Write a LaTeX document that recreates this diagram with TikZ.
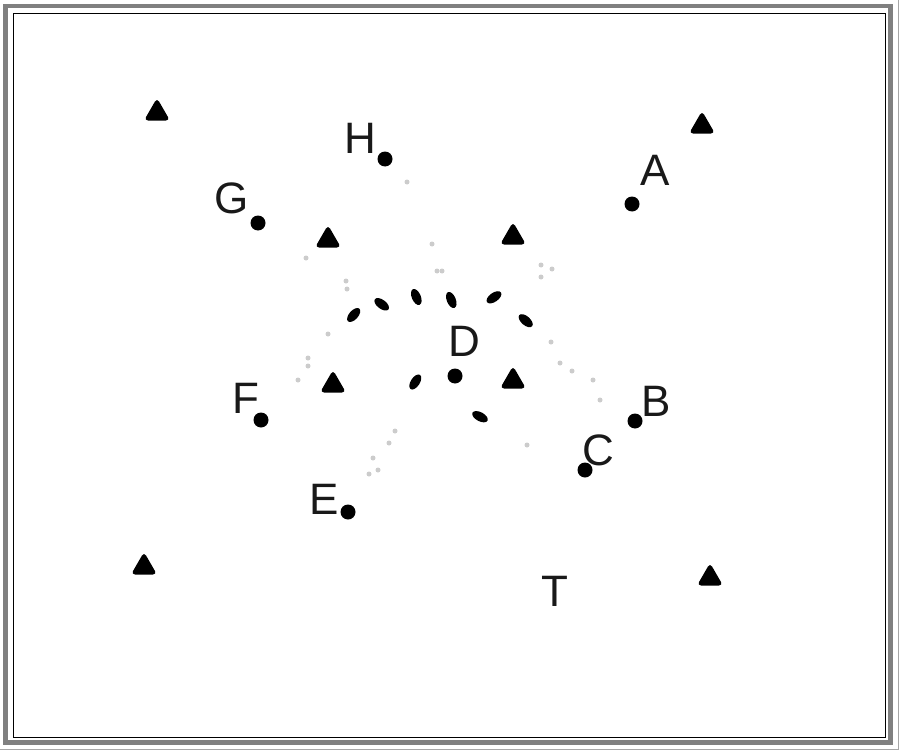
\documentclass[tikz,border=0pt]{standalone}
\usepackage{fontspec}
\setmainfont{Liberation Sans}
\usetikzlibrary{shapes.geometric}
\begin{document}
\begin{tikzpicture}[x=1pt,y=-1pt,
  tri/.style={regular polygon, regular polygon sides=3, fill=black, draw=black, line width=2pt, rounded corners=2.5pt, minimum size=26pt, inner sep=0pt},
  pt/.style={circle, fill=black, minimum size=15pt, inner sep=0pt},
  lbl/.style={font=\fontsize{44}{44}\selectfont, inner sep=0pt, text=black!90},
  drop/.style={ellipse, fill=black, minimum width=17pt, minimum height=9pt, inner sep=0pt},
  trace/.style={circle, fill=gray!40, minimum size=5pt, inner sep=0pt}]
\useasboundingbox (0,0) rectangle (900,752);
\fill[white] (0,0) rectangle (900,752);
% frame
\draw[black!50, line width=4.5pt] (5.5,6) rectangle (890.5,742.5);
\draw[black, line width=1pt] (13.3,13.3) rectangle (885,737);
\draw[gray!70, line width=0.8pt] (898,0) -- (898,749) -- (0,749);
% triangles
\node[tri] (t1) at (157,113) {};
\node[tri] (t2) at (702,126) {};
\node[tri] (t3) at (328,240) {};
\node[tri] (t4) at (513,237) {};
\node[tri] (t5) at (333,385) {};
\node[tri] (t6) at (513,381) {};
\node[tri] (t7) at (144,567) {};
\node[tri] (t8) at (710,578) {};
% points
\node[pt] (pA) at (632,204) {};
\node[pt] (pB) at (635,421) {};
\node[pt] (pC) at (585,470) {};
\node[pt] (pD) at (455,376) {};
\node[pt] (pE) at (348,512) {};
\node[pt] (pF) at (261,420) {};
\node[pt] (pG) at (258,223) {};
\node[pt] (pH) at (385,159) {};
% labels
\node[lbl] (lA) at (655,170) {A};
\node[lbl] (lB) at (656,401) {B};
\node[lbl] (lC) at (598,450) {C};
\node[lbl] (lD) at (464,341) {D};
\node[lbl] (lE) at (324,499) {E};
\node[lbl] (lF) at (246,398) {F};
\node[lbl] (lG) at (232,198) {G};
\node[lbl] (lH) at (360,138) {H};
\node[lbl] (lT) at (555,591) {T};
% drops around D
\node[drop, rotate=48] (d1) at (353.7,315) {};
\node[drop, rotate=-37] (d2) at (381.7,304.3) {};
\node[drop, rotate=-67] (d3) at (416.3,297) {};
\node[drop, rotate=-68] (d4) at (451.3,300) {};
\node[drop, rotate=35] (d5) at (494,297.3) {};
\node[drop, rotate=-41] (d6) at (525.7,320.7) {};
\node[drop, rotate=57] (d7) at (415.3,382) {};
\node[drop, rotate=-28] (d8) at (480,416.7) {};
% faint traces
\foreach \p [count=\i] in {(407,182),(432,244),(437,271),(442,271),(541,265),(541,277),(552,269),(551,342),(560,363),(572,371),(593,380),(600,400),(306,258),(347,289),(346,281),(328,334),(308,358),(308,366),(298,380),(395,431),(389,443),(373,458),(378,470),(369,474),(527,445)}
  \node[trace] (tr\i) at \p {};
\end{tikzpicture}
\end{document}
